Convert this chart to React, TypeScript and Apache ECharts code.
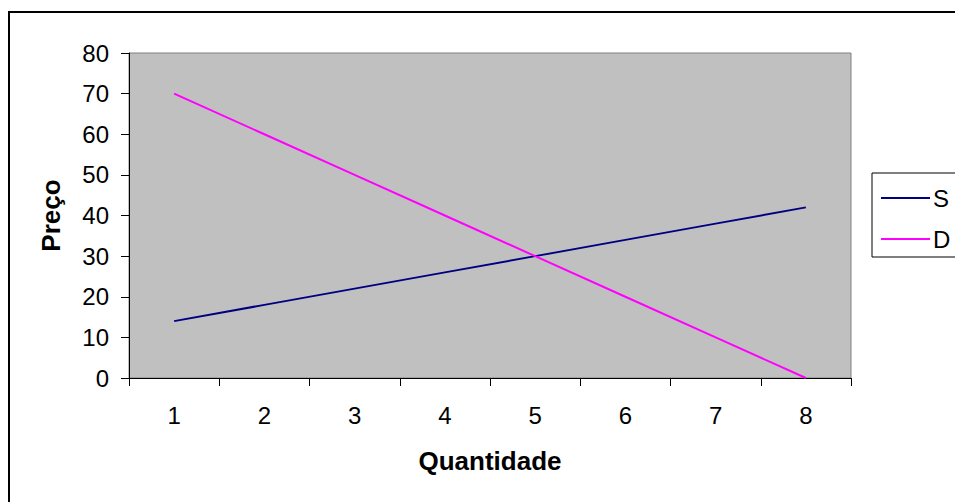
import React, { useEffect, useRef } from "react";
import * as echarts from "echarts";

const quantities = ["1", "2", "3", "4", "5", "6", "7", "8"];
const supply = [14, 18, 22, 26, 30, 34, 38, 42];
const demand = [70, 60, 50, 40, 30, 20, 10, 0];

const FONT = "'Liberation Sans', Arial, sans-serif";

export default function App() {
  const ref = useRef<HTMLDivElement>(null);

  useEffect(() => {
    if (!ref.current) return;
    const chart = echarts.init(ref.current, null, { renderer: "svg" });
    chart.setOption({
      animation: false,
      textStyle: { fontFamily: FONT },
      graphic: [
        {
          type: "rect",
          shape: { x: 9, y: 12, width: 1000, height: 600 },
          style: { fill: "none", stroke: "#000", lineWidth: 2 },
          silent: true,
        },
      ],
      grid: {
        left: 129,
        top: 53,
        width: 722,
        height: 325,
        show: true,
        backgroundColor: "#c0c0c0",
        borderColor: "#808080",
        borderWidth: 1,
      },
      legend: {
        orient: "vertical",
        left: 872,
        top: 173,
        padding: [13, 40, 6, 9],
        itemWidth: 49,
        itemHeight: 2,
        itemGap: 17,
        icon: "rect",
        borderColor: "#000",
        borderWidth: 1,
        backgroundColor: "#fff",
        textStyle: { fontSize: 24, color: "#000", fontFamily: FONT, padding: [0, 0, 0, -2] },
        data: ["S", "D"],
      },
      xAxis: {
        type: "category",
        data: quantities,
        boundaryGap: true,
        name: "Quantidade",
        nameLocation: "middle",
        nameGap: 70,
        nameTextStyle: { fontSize: 26, fontWeight: "bold", color: "#000", fontFamily: FONT },
        axisLine: { show: true, lineStyle: { color: "#000", width: 1 } },
        axisTick: { show: true, length: 8, alignWithLabel: false, lineStyle: { color: "#000" } },
        axisLabel: { fontSize: 24, color: "#000", margin: 25, fontFamily: FONT },
        splitLine: { show: false },
      },
      yAxis: {
        type: "value",
        min: 0,
        max: 80,
        interval: 10,
        name: "Preço",
        nameLocation: "middle",
        nameGap: 65,
        nameRotate: 90,
        nameTextStyle: { fontSize: 26, fontWeight: "bold", color: "#000", fontFamily: FONT },
        axisLine: { show: true, lineStyle: { color: "#000", width: 1 } },
        axisTick: { show: true, length: 8, lineStyle: { color: "#000" } },
        axisLabel: { fontSize: 24, color: "#000", margin: 20, fontFamily: FONT },
        splitLine: { show: false },
      },
      series: [
        {
          name: "S",
          type: "line",
          data: supply,
          symbol: "none",
          lineStyle: { color: "#000080", width: 2 },
          itemStyle: { color: "#000080" },
        },
        {
          name: "D",
          type: "line",
          data: demand,
          symbol: "none",
          lineStyle: { color: "#ff00ff", width: 2 },
          itemStyle: { color: "#ff00ff" },
        },
      ],
    });
    return () => chart.dispose();
  }, []);

  return (
    <div
      ref={ref}
      style={{ position: "fixed", left: 0, top: 0, width: 955, height: 502, background: "#fff" }}
    />
  );
}
